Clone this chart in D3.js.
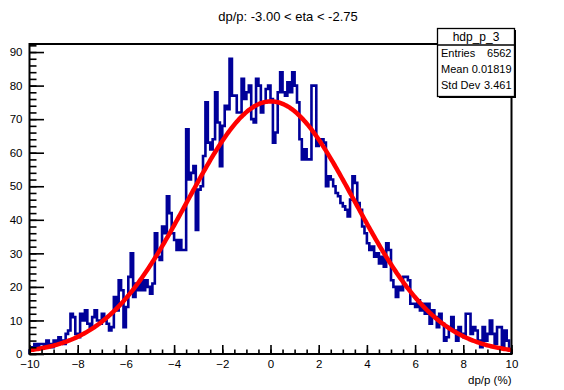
<!DOCTYPE html>
<html>
<head>
<meta charset="utf-8">
<script src="https://cdn.jsdelivr.net/npm/d3@7"></script>
<style>
  html, body { margin: 0; padding: 0; background: #fff; }
  svg { display: block; font-family: "Liberation Sans", Arial, Helvetica, sans-serif; }
</style>
</head>
<body>
<svg id="chart" width="564" height="390"></svg>
<script>
// Histogram hdp_p_3: 200 bins of dp/p between -10 and 10 %
const xMin = -10;
const xMax = 10;
const binCounts = [
  // -10.0 .. -9.1
  1, 2, 3, 2, 3, 3, 2, 4, 3, 2,
  // -9.0 .. -8.1
  4, 3, 5, 4, 3, 6, 7, 12, 11, 6,
  // -8.0 .. -7.1
  5, 12, 10, 13, 9, 8, 11, 13, 10, 9,
  // -7.0 .. -6.1
  12, 10, 9, 7, 8, 17, 13, 22, 19, 8,
  // -6.0 .. -5.1
  14, 23, 30, 17, 21, 19, 22, 19, 22, 20,
  // -5.0 .. -4.1
  18, 21, 36, 29, 28, 38, 36, 47, 42, 36,
  // -4.0 .. -3.1
  34, 31, 34, 31, 31, 67, 52, 54, 56, 37,
  // -3.0 .. -2.1
  49, 50, 59, 75, 63, 61, 64, 78, 69, 56,
  // -2.0 .. -1.1
  68, 74, 73, 88, 77, 77, 72, 72, 82, 76,
  // -1.0 .. -0.1
  78, 80, 70, 69, 82, 80, 72, 75, 79, 80,
  // 0.0 .. 0.9
  76, 63, 66, 78, 84, 78, 77, 81, 78, 84,
  // 1.0 .. 1.9
  80, 75, 64, 58, 61, 58, 58, 80, 80, 62,
  // 2.0 .. 2.9
  64, 64, 63, 50, 53, 52, 50, 48, 47, 45,
  // 3.0 .. 3.9
  44, 43, 41, 46, 53, 51, 45, 43, 38, 36,
  // 4.0 .. 4.9
  33, 31, 32, 29, 30, 27, 29, 26, 33, 31,
  // 5.0 .. 5.9
  22, 20, 17, 20, 19, 23, 23, 22, 15, 15,
  // 6.0 .. 6.9
  14, 16, 13, 15, 12, 15, 9, 13, 11, 8,
  // 7.0 .. 7.9
  12, 9, 4, 5, 8, 11, 7, 4, 8, 6,
  // 8.0 .. 8.9
  5, 12, 12, 6, 8, 7, 4, 2, 8, 4,
  // 9.0 .. 9.9
  6, 10, 6, 3, 8, 8, 2, 7, 4, 1
];

// Gaussian fit parameters
const fitConstant = 75.3;
const fitMean = 0.02;
const fitSigma = 3.46;

// Statistics box
const histName = "hdp_p_3";
const statLabels = ["Entries", "Mean", "Std Dev"];
const statValues = ["6562", "0.01819", "3.461"];

const titleText = "dp/p: -3.00 < eta < -2.75";
const xTitle = "dp/p (%)";

const yMajorTicks = [0, 10, 20, 30, 40, 50, 60, 70, 80, 90];
const xMajorTicks = [-10, -8, -6, -4, -2, 0, 2, 4, 6, 8, 10];

// Frame geometry
const frame = { left: 29.5, right: 511.5, top: 44, bottom: 354 };

const svg = d3.select("#chart");
const nBins = binCounts.length;
const binWidth = (xMax - xMin) / nBins;
const yMax = d3.max(binCounts) * 1.05;

const x = d3.scaleLinear().domain([xMin, xMax]).range([frame.left, frame.right]);
const y = d3.scaleLinear().domain([0, yMax]).range([frame.bottom, frame.top]);

// Histogram outline as a step path
const steps = [[xMin, 0]];
binCounts.forEach((c, i) => {
  steps.push([xMin + i * binWidth, c]);
  steps.push([xMin + (i + 1) * binWidth, c]);
});
steps.push([xMax, 0]);
const stepLine = d3.line().x(d => x(d[0])).y(d => y(d[1]));

svg.append("path")
  .attr("d", stepLine(steps))
  .attr("fill", "none")
  .attr("stroke", "#000099")
  .attr("stroke-width", 2.6)
  .attr("stroke-linejoin", "miter");

// Fit curve
const fitX = d3.range(0, 401).map(i => xMin + i * (xMax - xMin) / 400);
const fitLine = d3.line()
  .x(v => x(v))
  .y(v => y(fitConstant * Math.exp(-0.5 * Math.pow((v - fitMean) / fitSigma, 2))));
svg.append("path")
  .attr("d", fitLine(fitX))
  .attr("fill", "none")
  .attr("stroke", "#ff0000")
  .attr("stroke-width", 4.5)
  .attr("stroke-linecap", "butt");

// Frame
svg.append("rect")
  .attr("x", frame.left).attr("y", frame.top)
  .attr("width", frame.right - frame.left)
  .attr("height", frame.bottom - frame.top)
  .attr("fill", "none").attr("stroke", "#000").attr("stroke-width", 2);

// Axes with inward ticks
const xMajorLen = 9, xMinorLen = 4.5, yMajorLen = 14.5, yMinorLen = 7;

const xAxisMinor = d3.axisBottom(x)
  .tickValues(d3.range(xMin, xMax + 0.001, 0.5))
  .tickSizeInner(-xMinorLen).tickSizeOuter(0).tickFormat("");
const xAxisMajor = d3.axisBottom(x)
  .tickValues(xMajorTicks)
  .tickSizeInner(-xMajorLen).tickSizeOuter(0).tickPadding(6)
  .tickFormat(d3.format("d"));

const gxMinor = svg.append("g").attr("transform", `translate(0,${frame.bottom})`).call(xAxisMinor);
const gxMajor = svg.append("g").attr("transform", `translate(0,${frame.bottom})`).call(xAxisMajor);

const yMinorVals = d3.range(0, yMax, 2);
const yAxisMinor = d3.axisLeft(y)
  .tickValues(yMinorVals)
  .tickSizeInner(-yMinorLen).tickSizeOuter(0).tickFormat("");
const yAxisMajor = d3.axisLeft(y)
  .tickValues(yMajorTicks)
  .tickSizeInner(-yMajorLen).tickSizeOuter(0).tickPadding(7)
  .tickFormat(d3.format("d"));

const gyMinor = svg.append("g").attr("transform", `translate(${frame.left},0)`).call(yAxisMinor);
const gyMajor = svg.append("g").attr("transform", `translate(${frame.left},0)`).call(yAxisMajor);

[gxMinor, gxMajor, gyMinor, gyMajor].forEach(g => {
  g.select(".domain").remove();
  g.selectAll(".tick line").attr("stroke", "#000").attr("stroke-width", 1.6);
  g.selectAll("text")
    .attr("fill", "#000")
    .style("font-family", "'Liberation Sans', Arial, sans-serif")
    .style("font-size", "11.5px");
});
gxMajor.selectAll("text").attr("dy", "0.71em").attr("y", 6);

// Titles
svg.append("text")
  .attr("x", 288).attr("y", 21)
  .attr("text-anchor", "middle")
  .style("font-size", "13px")
  .text(titleText);

svg.append("text")
  .attr("x", frame.right).attr("y", 384)
  .attr("text-anchor", "end")
  .style("font-size", "11.5px")
  .text(xTitle);

// Statistics box with shadow
const box = { x: 437.5, y: 28.5, w: 77, h: 68, header: 16.5, rowH: 16 };
svg.append("rect")
  .attr("x", box.x + 1.5).attr("y", box.y + 1.5)
  .attr("width", box.w).attr("height", box.h)
  .attr("fill", "#000");
svg.append("rect")
  .attr("x", box.x).attr("y", box.y)
  .attr("width", box.w).attr("height", box.h)
  .attr("fill", "#fff").attr("stroke", "#000").attr("stroke-width", 1.3);
svg.append("line")
  .attr("x1", box.x).attr("x2", box.x + box.w)
  .attr("y1", box.y + box.header).attr("y2", box.y + box.header)
  .attr("stroke", "#000").attr("stroke-width", 1.3);
svg.append("text")
  .attr("x", box.x + box.w / 2).attr("y", box.y + 12.5)
  .attr("text-anchor", "middle")
  .style("font-size", "12px")
  .text(histName);

statLabels.forEach((lab, i) => {
  const by = box.y + box.header + 12 + i * box.rowH;
  svg.append("text")
    .attr("x", box.x + 3.5).attr("y", by)
    .style("font-size", "11px")
    .text(lab);
  svg.append("text")
    .attr("x", box.x + box.w - 3).attr("y", by)
    .attr("text-anchor", "end")
    .style("font-size", "11px")
    .text(statValues[i]);
});
</script>
</body>
</html>
